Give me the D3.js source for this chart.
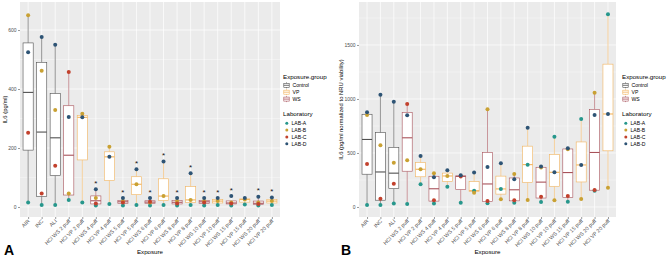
<!DOCTYPE html>
<html>
<head>
<meta charset="utf-8">
<script src="https://cdn.jsdelivr.net/npm/d3@7"></script>
<style>
  body { margin: 0; background: #fff; }
  text { font-family: "Liberation Sans", Arial, sans-serif; }
</style>
</head>
<body>
<svg id="chart" width="669" height="258"></svg>
<script>
// categories on the x axis (same for both panels)
const categories = ["AIR", "INC", "ALI",
  "HCl WS 2 puff", "HCl VP 2 puff", "HCl WS 4 puff", "HCl VP 4 puff",
  "HCl WS 5 puff", "HCl VP 5 puff", "HCl WS 6 puff", "HCl VP 6 puff",
  "HCl WS 8 puff", "HCl VP 8 puff", "HCl WS 10 puff", "HCl VP 10 puff",
  "HCl WS 15 puff", "HCl VP 15 puff", "HCl WS 20 puff", "HCl VP 20 puff"];
const exposureGroup = ["Control", "Control", "Control",
  "WS", "VP", "WS", "VP", "WS", "VP", "WS", "VP",
  "WS", "VP", "WS", "VP", "WS", "VP", "WS", "VP"];
const labs = ["LAB-A", "LAB-B", "LAB-C", "LAB-D"];

// panel A: IL6 (pg/ml), one value per laboratory (null = not measured)
const il6LabA = [15, 7, 7, 24, 15, 5, 10, 5, 7, 5, 7, 5, 7, 5, 7, 5, 8, 5, 7];
const il6LabB = [650, 462, 329, 46, 316, 30, 204, 20, 77, 15, 37, 20, 24, 20, 20, 15, 25, 15, 20];
const il6LabC = [252, 46, 140, 458, null, 12, null, 15, null, 18, null, 12, null, 15, null, 12, null, 10, null];
const il6LabD = [525, 576, 550, 305, 304, 60, 170, 30, 128, 30, 154, 30, 114, 30, 30, 37, 30, 35, 32];
const il6Star = [0, 0, 0, 0, 0, 1, 0, 1, 1, 1, 1, 1, 1, 1, 1, 1, 0, 1, 1];

// panel B: IL6 normalized to NRU viability
const nruLabA = [19, 19, 31, 28, 210, 31, 188, 40, 151, 34, 167, 40, 392, 46, 651, 49, 815, 150, 1784];
const nruLabB = [852, 571, 410, 432, 349, 312, 287, null, 132, 905, 71, 306, 65, 365, 62, 535, 74, 1058, 179];
const nruLabC = [398, 77, 216, 954, null, 62, null, 283, null, 56, null, 62, null, 95, null, 102, null, 157, null];
const nruLabD = [877, 1040, 975, 849, 472, 275, 340, 293, 318, 370, 404, 256, 734, 375, 321, 543, 389, 852, 861];

const groupColor = { Control: "#505050", VP: "#f2b45e", WS: "#a8525a" };
const labColor = { "LAB-A": "#27978c", "LAB-B": "#c9a133", "LAB-C": "#c2412d", "LAB-D": "#2e5475" };

const svg = d3.select("#chart");

function boxStats(vals) {
  const v = vals.filter(d => d != null).sort(d3.ascending);
  const q1 = d3.quantile(v, 0.25), med = d3.quantile(v, 0.5), q3 = d3.quantile(v, 0.75);
  const iqr = q3 - q1;
  const lo = d3.min(v.filter(d => d >= q1 - 1.5 * iqr));
  const hi = d3.max(v.filter(d => d <= q3 + 1.5 * iqr));
  return { q1, med, q3, lo, hi, max: d3.max(v) };
}

function drawPanel(opt) {
  const left = opt.left, right = opt.right, top = 2, bottom = 217;
  const g = svg.append("g");

  const x = d3.scalePoint().domain(categories).range([left, right]).padding(0.6);
  const y = d3.scaleLinear().domain(opt.yDomain).range([bottom, top]);
  const bw = x.step() * 0.75;

  // grey panel + grid
  g.append("rect").attr("x", left).attr("y", top)
    .attr("width", right - left).attr("height", bottom - top).attr("fill", "#ebebeb");
  g.selectAll(".minor").data(opt.minor).enter().append("line")
    .attr("x1", left).attr("x2", right)
    .attr("y1", d => y(d)).attr("y2", d => y(d))
    .attr("stroke", "#fff").attr("stroke-width", 0.35);
  g.selectAll(".major").data(opt.ticks).enter().append("line")
    .attr("x1", left).attr("x2", right)
    .attr("y1", d => y(d)).attr("y2", d => y(d))
    .attr("stroke", "#fff").attr("stroke-width", 0.7);
  g.selectAll(".vgrid").data(categories).enter().append("line")
    .attr("x1", d => x(d)).attr("x2", d => x(d))
    .attr("y1", top).attr("y2", bottom)
    .attr("stroke", "#fff").attr("stroke-width", 0.7);

  // axes
  const ya = g.append("g").attr("transform", "translate(" + left + ",0)")
    .call(d3.axisLeft(y).tickValues(opt.ticks).tickFormat(d3.format("d")).tickSize(2).tickPadding(1.5));
  ya.select(".domain").remove();
  ya.selectAll("line").attr("stroke", "#333").attr("stroke-width", 0.5);
  ya.selectAll("text").attr("font-size", 5).attr("fill", "#4d4d4d")
    .attr("font-family", "Liberation Sans, Arial, sans-serif");

  const xa = g.append("g").attr("transform", "translate(0," + bottom + ")")
    .call(d3.axisBottom(x).tickSize(2));
  xa.select(".domain").remove();
  xa.selectAll("line").attr("stroke", "#333").attr("stroke-width", 0.5);
  xa.selectAll("text").attr("font-size", 5.3).attr("fill", "#4d4d4d")
    .attr("font-family", "Liberation Sans, Arial, sans-serif")
    .attr("text-anchor", "end").attr("dy", null).attr("y", 0)
    .attr("transform", "translate(1.5,4.5) rotate(-45)");

  // boxes
  const rows = categories.map((c, i) => ({
    cat: c, grp: exposureGroup[i], star: opt.star ? opt.star[i] : 0,
    vals: opt.series.map(s => s[i]), s: boxStats(opt.series.map(s => s[i]))
  }));
  const box = g.selectAll(".box").data(rows).enter().append("g")
    .attr("transform", d => "translate(" + x(d.cat) + ",0)");
  box.append("line").attr("y1", d => y(d.s.hi)).attr("y2", d => y(d.s.q3))
    .attr("stroke", d => groupColor[d.grp]).attr("stroke-width", 0.6);
  box.append("line").attr("y1", d => y(d.s.lo)).attr("y2", d => y(d.s.q1))
    .attr("stroke", d => groupColor[d.grp]).attr("stroke-width", 0.6);
  box.append("rect").attr("x", -bw / 2).attr("width", bw)
    .attr("y", d => y(d.s.q3)).attr("height", d => y(d.s.q1) - y(d.s.q3))
    .attr("fill", "#fff").attr("stroke", d => groupColor[d.grp]).attr("stroke-width", 0.6);
  box.append("line").attr("x1", -bw / 2).attr("x2", bw / 2)
    .attr("y1", d => y(d.s.med)).attr("y2", d => y(d.s.med))
    .attr("stroke", d => groupColor[d.grp]).attr("stroke-width", 1.1);

  // lab points
  box.selectAll("circle")
    .data(d => d.vals.map((v, k) => ({ v: v, lab: labs[k] })).filter(p => p.v != null))
    .enter().append("circle")
    .attr("r", 2).attr("cy", p => y(p.v))
    .attr("fill", p => labColor[p.lab]);

  // significance stars
  box.filter(d => d.star).append("text")
    .attr("y", d => y(d.s.max) - 3.2).attr("text-anchor", "middle")
    .attr("font-size", 8).attr("fill", "#111").text("*");

  // titles
  g.append("text").attr("x", (left + right) / 2).attr("y", 254)
    .attr("text-anchor", "middle").attr("font-size", 6.2).text("Exposure");
  g.append("text").attr("transform", "translate(" + opt.ytitleX + "," + (top + bottom) / 2 + ") rotate(-90)")
    .attr("text-anchor", "middle").attr("font-size", 5.9).text(opt.ytitle);
  g.append("text").attr("x", opt.letterX).attr("y", 255)
    .attr("font-size", 14).attr("font-weight", "bold").text(opt.letter);

  // legend
  const lg = g.append("g").attr("transform", "translate(" + opt.legendX + ",0)");
  lg.append("text").attr("y", 78.5).attr("font-size", 6.2).text("Exposure.group");
  const ge = lg.selectAll(".gk").data(["Control", "VP", "WS"]).enter().append("g")
    .attr("transform", (d, i) => "translate(0," + (85.3 + i * 6.9) + ")");
  ge.append("line").attr("x1", 3.5).attr("x2", 3.5).attr("y1", -3).attr("y2", 3)
    .attr("stroke", d => groupColor[d]).attr("stroke-width", 0.6);
  ge.append("rect").attr("x", 0.8).attr("y", -2).attr("width", 5.4).attr("height", 4)
    .attr("fill", "#fff").attr("stroke", d => groupColor[d]).attr("stroke-width", 0.6);
  ge.append("line").attr("x1", 0.8).attr("x2", 6.2).attr("y1", 0).attr("y2", 0)
    .attr("stroke", d => groupColor[d]).attr("stroke-width", 0.8);
  ge.append("text").attr("x", 9.5).attr("y", 1.8).attr("font-size", 5.1).text(d => d);

  lg.append("text").attr("y", 116).attr("font-size", 6.2).text("Laboratory");
  const le = lg.selectAll(".lk").data(labs).enter().append("g")
    .attr("transform", (d, i) => "translate(0," + (123.3 + i * 6.8) + ")");
  le.append("circle").attr("cx", 3.8).attr("r", 1.5).attr("fill", d => labColor[d]);
  le.append("text").attr("x", 8.5).attr("y", 1.8).attr("font-size", 5.1).text(d => d);
}

drawPanel({
  left: 20, right: 280, yDomain: [-34, 695],
  ticks: [0, 200, 400, 600], minor: [100, 300, 500],
  series: [il6LabA, il6LabB, il6LabC, il6LabD], star: il6Star,
  ytitle: "IL6 (pg/ml)", ytitleX: 7, letter: "A", letterX: 4, legendX: 283
});

drawPanel({
  left: 359, right: 616, yDomain: [-93, 1898],
  ticks: [0, 500, 1000, 1500], minor: [250, 750, 1250, 1750],
  series: [nruLabA, nruLabB, nruLabC, nruLabD], star: null,
  ytitle: "IL6 (pg/ml normalized to NRU viability)", ytitleX: 343, letter: "B", letterX: 341, legendX: 622
});
</script>
</body>
</html>
